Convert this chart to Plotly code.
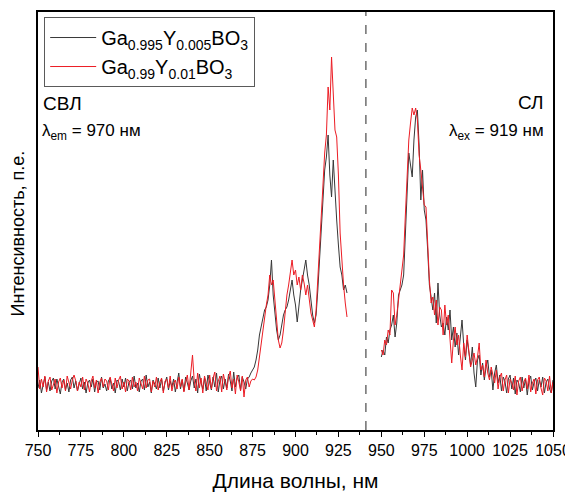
import plotly.graph_objects as go

# ---------------- data (arbitrary intensity units, baseline ~ 0) ----------------
ex_wl = list(range(750, 931))
ex_black = [
    -3, 5, -8, 2, 8, -5, 3, -6, 4, 7,
    -4, 6, -2, -9, 3, 6, -5, 2, -7, 5,
    8, -3, 4, -6, 1, 7, -4, 3, -8, 2,
    5, -2, 6, -7, 3, 4, -5, 8, -3, 1,
    -6, 4, 7, -4, 2, -8, 5, 3, -5, 6,
    -2, 7, -6, 3, 5, -4, 9, -3, 2, -7,
    4, 6, -5, 10, -2, 3, -8, 5, 1, -4,
    7, -3, 6, -6, 2, 8, -5, 4, -2, 6,
    -7, 3, 12, -4, 5, -6, 8, 2, -5, 4,
    9, -3, 6, -8, 11, 2, -4, 7, -6, 10,
    3, -5, 8, -2, 12, -7, 5, 9, -4, 6,
    -3, 11, 4, -6, 13, -2, 7, 10, -5, 8,
    3, -4, 6, 8, 12, 15,
    18, 25, 35, 50, 58, 65, 75, 78, 85, 100,
    125, 90, 70, 55, 45, 50, 60, 70, 75, 78,
    85, 95, 105, 90, 80, 63, 80, 95, 105, 115,
    125, 110, 100, 85, 70, 62, 70, 95, 128, 160,
    195, 215, 228, 250, 210, 188, 225, 190, 165, 140,
    118, 110, 95, 100, 92,
]
ex_red = [
    18, -4, 6, -2, 9, -7, 4, 8, -5, 2,
    6, -8, 3, 7, -3, 5, -6, 9, 1, -4,
    5, 10, 4, -6, 3, -2, 8, -5, 6, 2,
    -7, 4, 9, -3, 5, -8, 3, 7, -2, 6,
    4, -5, 8, 2, -6, 7, -3, 5, 9, -4,
    3, -7, 6, 4, -5, 8, -2, 3, -6, 7,
    2, -4, 9, -3, 5, 6, -7, 4, -2, 8,
    -5, 3, 7, -8, 4, 6, -3, 9, -6, 2,
    5, -4, 8, -2, 6, -7, 3, 10, -5, 14,
    30, 4, -6, 12, -3, 7, -8, 9, 3, -5,
    10, -4, 7, 13, -6, 4, 9, -7, 11, 2,
    -5, 8, 14, -3, 6, -9, 10, 3, -6, 9,
    -12, 5, 8, -2, 4, 6,
    5, 8, 15, 28, 42, 55, 68, 80, 90, 110,
    100, 105, 85, 65, 45, 37, 42, 55, 75, 90,
    100, 115, 125, 110, 115, 100, 108, 95, 110, 102,
    90, 100, 85, 72, 65, 58, 75, 110, 145, 180,
    200, 232, 250, 298, 275, 328, 295, 255, 248, 210,
    152, 120, 100, 82, 68,
]

em_wl = list(range(950, 1051))
em_black = [
    28, 35, 30, 48, 42, 55, 60, 70, 48, 62,
    90, 95, 100, 110, 150, 200, 232, 220, 208, 245,
    268, 275, 240, 185, 215, 175, 165, 135, 100, 88,
    75, 92, 62, 102, 70, 58, 62, 50, 68, 55,
    75, 45, 58, 38, 52, 30, 48, 65, 40, 25,
    45, 30, 20, 38, 12, -2, 25, 30, 10, 22,
    5, 18, 25, 8, 15, -5, 12, 20, 2, 10,
    -6, 8, 4, -8, 6, 10, -4, 7, -9, 5,
    2, -7, 8, -3, 6, -10, 4, 9, -5, 3,
    7, -6, 5, -2, 8, -8, 3, 6, -4, -8,
    5,
]
em_red = [
    35, 30, 45, 40, 55, 50, 95, 92, 60, 70,
    85, 100, 110, 130, 170, 215, 245, 262, 277, 270,
    277, 265, 230, 215, 200, 180, 178, 140, 105, 82,
    88, 70, 85, 60, 78, 75, 50, 80, 60, 70,
    45, 22, 45, 58, 40, 50, 30, 15, 42, 28,
    50, 35, 18, 25, 32, 20, 28, 42, 15, 20,
    8, 25, 12, 5, 18, 10, 2, 15, -4, 8,
    12, -6, 5, 10, -8, 6, 2, -5, 9, -10,
    4, 8, -6, 3, 7, -4, 10, -7, 2, 6,
    -9, 5, 8, -3, -10, 7, 4, -6, 9, -8,
    3,
]

name_black = "Ga<sub>0.995</sub>Y<sub>0.005</sub>BO<sub>3</sub>"
name_red = "Ga<sub>0.99</sub>Y<sub>0.01</sub>BO<sub>3</sub>"
x_ticks = list(range(750, 1051, 25))
split_wl = 941
label_left = "СВЛ"
label_left2 = "λ<sub>em</sub> = 970 нм"
label_right = "СЛ"
label_right2 = "λ<sub>ex</sub> = 919 нм"

# ---------------- figure ----------------
FONT = "Liberation Sans, Arial, sans-serif"
BLACK = "rgb(55,55,55)"
RED = "rgb(236,28,36)"

fig = go.Figure()
fig.add_trace(go.Scatter(x=ex_wl, y=ex_black, mode="lines", name=name_black,
                         line=dict(color=BLACK, width=1), legendgroup="b"))
fig.add_trace(go.Scatter(x=ex_wl, y=ex_red, mode="lines", name=name_red,
                         line=dict(color=RED, width=1), legendgroup="r"))
fig.add_trace(go.Scatter(x=em_wl, y=em_black, mode="lines", name=name_black,
                         line=dict(color=BLACK, width=1), legendgroup="b",
                         showlegend=False))
fig.add_trace(go.Scatter(x=em_wl, y=em_red, mode="lines", name=name_red,
                         line=dict(color=RED, width=1), legendgroup="r",
                         showlegend=False))

fig.add_shape(type="line", xref="x", yref="paper", x0=split_wl, x1=split_wl,
              y0=0, y1=1, line=dict(color="rgb(110,110,110)", width=1.5, dash="dash"))

def font(size):
    return dict(family=FONT, size=size, color="black")

common = dict(xref="paper", yref="paper", showarrow=False)
fig.add_annotation(x=0.006, y=0.781, text=label_left, xanchor="left", yanchor="middle",
                   font=font(19), **common)
fig.add_annotation(x=0.004, y=0.714, text=label_left2, xanchor="left", yanchor="middle",
                   font=font(17), **common)
fig.add_annotation(x=0.986, y=0.784, text=label_right, xanchor="right", yanchor="middle",
                   font=font(19), **common)
fig.add_annotation(x=0.986, y=0.714, text=label_right2, xanchor="right", yanchor="middle",
                   font=font(17), **common)
fig.add_annotation(x=-0.039, y=0.47, text="Интенсивность, п.е.", textangle=-90,
                   xanchor="center", yanchor="middle", font=font(18), **common)

fig.update_layout(
    width=565, height=484,
    margin=dict(l=30, r=20, t=4, b=62, autoexpand=False),
    paper_bgcolor="white", plot_bgcolor="white",
    font=dict(family=FONT, color="black"),
    showlegend=True,
    legend=dict(x=0.012, y=0.988, xanchor="left", yanchor="top",
                bordercolor="rgb(90,90,90)", borderwidth=1, bgcolor="white",
                font=font(20), tracegroupgap=0, itemwidth=46),
    xaxis=dict(range=[750, 1050], tickmode="array", tickvals=x_ticks,
               automargin=False,
               ticks="outside", ticklen=5, tickwidth=1.2, tickcolor="black",
               minor=dict(ticks="outside", ticklen=3, tickwidth=1.2, tickcolor="black",
                          dtick=12.5, tick0=750, showgrid=False),
               showline=True, linecolor="black", linewidth=1.5, mirror=True,
               showgrid=False, zeroline=False,
               tickfont=font(16),
               title=dict(text="Длина волны, нм", standoff=16, font=font(21))),
    yaxis=dict(range=[-45, 373], showticklabels=False, ticks="", automargin=False,
               showline=True, linecolor="black", linewidth=1.5, mirror=True,
               showgrid=False, zeroline=False),
)

fig.write_html("out.html")
